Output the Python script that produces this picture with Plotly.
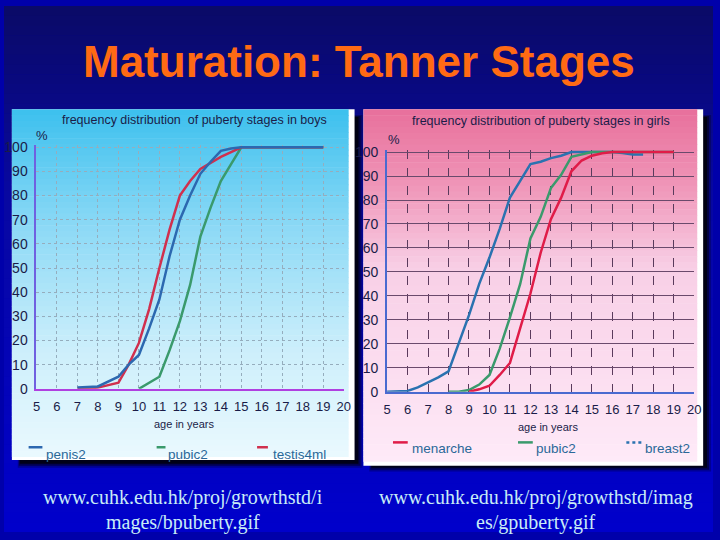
import plotly.graph_objects as go

# ---------------- data ----------------
boys_ages = [7, 8, 9, 9.5, 10, 10.5, 11, 11.5, 12, 12.5, 13, 13.5, 14, 14.5, 15, 16, 17, 18, 19]
boys_penis2 = [0.5, 1, 5, 10, 14, 25, 37, 55, 70, 80, 89, 94, 98.5, 99.5, 100, 100, 100, 100, 100]
boys_testis4ml = [0, 0.5, 2.5, 10, 19, 33, 50, 66, 80, 86, 91, 93.5, 96, 98, 100, 100, 100, 100, 100]
boys_pubic2 = [None, None, None, None, 0, 2.5, 5, 16, 28, 43, 63, 75, 86, 93, 100, 100, 100, 100, 100]

girls_ages = [5, 5.5, 6, 6.5, 7, 7.5, 8, 8.5, 9, 9.5, 10, 10.5, 11, 11.5, 12, 12.5, 13, 13.5,
              14, 14.5, 15, 15.5, 16, 16.5, 17, 17.5, 18, 18.5, 19]
girls_breast2 = [0, 0, 0.3, 1.8, 3.8, 6, 8.5, 20, 32, 45, 56, 68, 81, 88, 95, 96, 97.5, 98.5,
                 100, 100, 100, 100, 100, 99.6, 99, 99, None, None, None]
girls_pubic2 = [None, None, None, None, None, None, 0, 0, 0.7, 3, 7, 18, 31, 45, 64, 73, 85, 90.5,
                98, 99, 100, 100, 100, 100, 100, 100, 100, 100, 100]
girls_menarche = [None, None, None, None, None, None, None, None, 0, 1, 2.5, 7, 12, 27, 41, 58, 72, 81,
                  92, 96.5, 98.5, 99.5, 100, 100, 100, 100, 100, 100, 100]

age_ticks = list(range(5, 21))
pct_ticks = list(range(0, 101, 10))

# ---------------- helpers ----------------
W, H = 720, 540


def fx(x):
    return x / W


def fy(y):
    return 1 - y / H


def hex2rgb(h):
    h = h.lstrip('#')
    return tuple(int(h[i:i + 2], 16) for i in (0, 2, 4))


def interp(stops, t):
    for i in range(len(stops) - 1):
        t0, c0 = stops[i]
        t1, c1 = stops[i + 1]
        if t0 <= t <= t1:
            u = 0 if t1 == t0 else (t - t0) / (t1 - t0)
            a, b = hex2rgb(c0), hex2rgb(c1)
            return 'rgb(%d,%d,%d)' % tuple(round(a[k] + (b[k] - a[k]) * u) for k in range(3))
    return 'rgb(%d,%d,%d)' % hex2rgb(stops[-1][1])


shapes = []


def gradient_rect(x0, y0, x1, y1, stops, n):
    h = (y1 - y0) / n
    for i in range(n):
        t = (i + 0.5) / n
        shapes.append(dict(type='rect', xref='paper', yref='paper', layer='below',
                           x0=fx(x0), x1=fx(x1), y0=fy(y0 + i * h), y1=fy(min(y1, y0 + (i + 1) * h + 0.6)),
                           fillcolor=interp(stops, t), line_width=0))


def rect(x0, y0, x1, y1, color):
    shapes.append(dict(type='rect', xref='paper', yref='paper', layer='below',
                       x0=fx(x0), x1=fx(x1), y0=fy(y0), y1=fy(y1),
                       fillcolor=color, line_width=0))


# slide background
gradient_rect(0, 0, W, H, [(0, '#0a0a66'), (0.35, '#0808a0'), (1, '#0000cc')], 54)

# shadows
for k, a in enumerate([0.25, 0.45, 0.7]):
    d = 8 - 2 * k
    rect(14 + k, 112 + k, 356 + d, 466 + d, 'rgba(0,0,0,%.2f)' % a)
    rect(371 + k, 112 + k, 710 + d, 470 + d, 'rgba(0,0,0,%.2f)' % a)

# panels (white edge + gradient)
rect(8, 106, 356, 466, '#ffffff')
gradient_rect(8, 106, 350, 463, [(0, '#3cc0ee'), (0.35, '#8fdaf6'), (0.7, '#cdeffb'), (1, '#eaf9fe')], 60)
rect(365, 106, 710, 472, '#ffffff')
gradient_rect(365, 106, 704, 468, [(0, '#e8709c'), (0.2, '#ef92b5'), (0.45, '#f8cfe6'), (1, '#feeaf8')], 60)

SANS = 'Liberation Sans, Arial, sans-serif'
TXT = '#1a1c48'

fig = go.Figure()

BLUE_B, GREEN, RED_B = '#2c68b0', '#3a9a6c', '#d0304e'
RED_G, BLUE_G = '#e01c48', '#2a72b0'

fig.add_trace(go.Scatter(x=boys_ages, y=boys_pubic2, mode='lines', line=dict(color=GREEN, width=2.5),
                         xaxis='x', yaxis='y', name='pubic2'))
fig.add_trace(go.Scatter(x=boys_ages, y=boys_testis4ml, mode='lines', line=dict(color=RED_B, width=2.5),
                         xaxis='x', yaxis='y', name='testis4ml'))
fig.add_trace(go.Scatter(x=boys_ages, y=boys_penis2, mode='lines', line=dict(color=BLUE_B, width=2.5),
                         xaxis='x', yaxis='y', name='penis2'))

fig.add_trace(go.Scatter(x=girls_ages, y=girls_breast2, mode='lines', line=dict(color=BLUE_G, width=2.5),
                         xaxis='x2', yaxis='y2', name='breast2'))
fig.add_trace(go.Scatter(x=girls_ages, y=girls_pubic2, mode='lines', line=dict(color=GREEN, width=2.5),
                         xaxis='x2', yaxis='y2', name='pubic2'))
fig.add_trace(go.Scatter(x=girls_ages, y=girls_menarche, mode='lines', line=dict(color=RED_G, width=2.5),
                         xaxis='x2', yaxis='y2', name='menarche'))

# axes
b_y0, b_y100 = 393, 145
g_y0, g_y100 = 396, 150
top_b = b_y0 - (b_y0 - b_y100) * 1.01
top_g = g_y0 - (g_y0 - g_y100) * 1.01

common_x = dict(range=[5, 20], tickvals=age_ticks, ticks='', showline=True, linewidth=2, zeroline=False,
                tickfont=dict(family=SANS, size=13, color=TXT), ticklabelstandoff=5, fixedrange=True)
common_y = dict(range=[0, 101], tickvals=pct_ticks, ticks='', showline=True, linewidth=2, zeroline=False,
                tickfont=dict(family=SANS, size=14, color=TXT), ticklabelstandoff=4, fixedrange=True)

fig.update_layout(
    xaxis=dict(common_x, domain=[fx(33), fx(345)], anchor='y', gridcolor='#95adbd', griddash='dot',
               gridwidth=1, linecolor='#b040e0'),
    yaxis=dict(common_y, domain=[fy(b_y0), fy(top_b)], anchor='x', gridcolor='#95adbd', griddash='dot',
               gridwidth=1, linecolor='#7060e0'),
    xaxis2=dict(common_x, domain=[fx(389), fx(701)], anchor='y2', gridcolor='#5a3a5c', griddash='dash',
                gridwidth=1, linecolor='#4a6ad0'),
    yaxis2=dict(common_y, domain=[fy(g_y0), fy(top_g)], anchor='x2', gridcolor='#6a4a6c',
                gridwidth=1, linecolor='#4a6ad0'),
)

annotations = []


def text(x, y, s, size, color, family, xanchor='center', yanchor='middle', bold=False):
    annotations.append(dict(x=fx(x), y=fy(y), xref='paper', yref='paper', text=('<b>%s</b>' % s) if bold else s,
                            showarrow=False, xanchor=xanchor, yanchor=yanchor,
                            font=dict(size=size, color=color, family=family)))


text(360, 57, 'Maturation: Tanner Stages', 44, '#ff6a14', SANS, bold=True)

text(193, 117, 'frequency distribution  of puberty stages in boys', 12.5, TXT, SANS)
text(545, 118, 'frequency distribution of puberty stages in girls', 12.5, TXT, SANS)
text(39, 133, '%', 13, TXT, SANS)
text(396, 137, '%', 13, TXT, SANS)
text(183, 429, 'age in years', 11, TXT, SANS)
text(552, 432, 'age in years', 11, TXT, SANS)

LEG = '#2a6898'
# boys legend
for (x0, x1, c, dash), (tx, label) in zip(
        [(25, 39, BLUE_B, 'solid'), (155, 164, GREEN, 'solid'), (257, 268, RED_B, 'solid')],
        [(41, 'penis2'), (165, 'pubic2'), (271, 'testis4ml')]):
    shapes.append(dict(type='line', xref='paper', yref='paper', x0=fx(x0), x1=fx(x1), y0=fy(453), y1=fy(453),
                       line=dict(color=c, width=2.5, dash=dash)))
    text(tx, 460, label, 13.5, LEG, SANS, xanchor='left')
# girls legend
for (x0, x1, c, dash), (tx, label) in zip(
        [(395, 410, RED_G, 'solid'), (522, 537, GREEN, 'solid'), (632, 648, BLUE_G, 'dot')],
        [(412, 'menarche'), (538, 'pubic2'), (649, 'breast2')]):
    shapes.append(dict(type='line', xref='paper', yref='paper', x0=fx(x0), x1=fx(x1), y0=fy(448), y1=fy(448),
                       line=dict(color=c, width=2.5, dash=dash)))
    text(tx, 454, label, 13.5, LEG, SANS, xanchor='left')

# footers
FOOT = '#c8ecf6'
SERIF = 'Liberation Serif, Times New Roman, serif'
text(182, 505, 'www.cuhk.edu.hk/proj/growthstd/i', 20, FOOT, SERIF)
text(182, 530, 'mages/bpuberty.gif', 20, FOOT, SERIF)
text(540, 505, 'www.cuhk.edu.hk/proj/growthstd/imag', 20, FOOT, SERIF)
text(540, 530, 'es/gpuberty.gif', 20, FOOT, SERIF)

fig.update_layout(
    width=W, height=H, margin=dict(l=0, r=0, t=0, b=0),
    paper_bgcolor='#0000aa', plot_bgcolor='rgba(0,0,0,0)',
    showlegend=False, shapes=shapes, annotations=annotations,
)

fig.write_html('out.html', config={'displayModeBar': False},
               post_script="document.body.style.margin='0';document.body.style.padding='0';"
                           "document.body.style.overflow='hidden';")
